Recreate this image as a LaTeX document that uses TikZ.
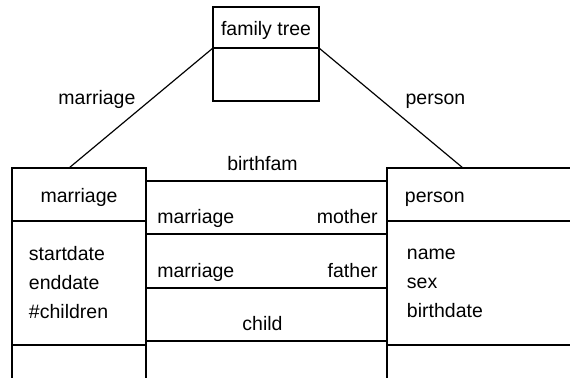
\documentclass[tikz,border=0pt]{standalone}
\usepackage{fontspec}
\setmainfont{Liberation Sans}
\usetikzlibrary{calc}
\begin{document}
\begin{tikzpicture}[x=0.5pt,y=-0.5pt,
    box/.style={draw,line width=0.6pt,anchor=north west,inner sep=0,outer sep=0,minimum height=#1},
    head/.style={text height=8.5pt,text depth=0pt},
    lbl/.style={font=\fontsize{9.75}{14.5}\selectfont,inner sep=0},
    every node/.style={font=\fontsize{9.75}{14.5}\selectfont}]
  \useasboundingbox (0,0) rectangle (570,378);
  \clip (0,0) rectangle (570,378);
  % family tree
  \node[box=20.5pt,head,minimum width=53pt] (fthead) at (213,7) {family tree};
  \node[box=26.5pt,minimum width=53pt] (ftbody) at (fthead.south west) {};
  % marriage
  \node[box=26.5pt,head,minimum width=67pt] (mhead) at (12,168) {marriage};
  \node[box=62pt,text width=50pt,inner xsep=8.5pt,align=left] (mattr) at (mhead.south west) {startdate\\enddate\\\#children};
  \node[box=30pt,minimum width=67pt] (mfoot) at (mattr.south west) {};
  % person
  \node[box=26.5pt,head,text width=80pt,inner xsep=9pt,align=left] (phead) at (387,168) {person};
  \node[box=62pt,text width=78pt,inner xsep=10pt,align=left] (pattr) at (phead.south west) {name\\sex\\birthdate};
  \node[box=30pt,text width=78pt,inner xsep=10pt] (pfoot) at (pattr.south west) {};
  \coordinate (mtop) at ([xshift=28.5pt]mhead.north west);
  \coordinate (ptop) at ([xshift=38pt]phead.north west);
  \draw[line width=0.6pt] (ftbody.north west) -- node[lbl,midway,anchor=base east,xshift=-2.5pt,yshift=1.5pt] {marriage} (mtop);
  \draw[line width=0.6pt] (ftbody.north east) -- node[lbl,midway,anchor=base west,xshift=7pt,yshift=1.5pt] {person} (ptop);
  % links
  \foreach \yy/\nn in {181/a,234/b,288/c,341/d}
    \draw[line width=0.6pt] (mhead.east |- 0,\yy) coordinate (\nn l) -- (phead.west |- 0,\yy) coordinate (\nn r);
  \node[lbl,anchor=base] (birthfam) at ($(al)!0.5!(ar)+(-4,-10)$) {birthfam};
  \node[lbl,anchor=base west] (bm) at ($(bl)+(11,-10)$) {marriage};
  \node[lbl,anchor=base east] (bmother) at ($(br)+(-9,-10)$) {mother};
  \node[lbl,anchor=base west] (cm) at ($(cl)+(11,-10)$) {marriage};
  \node[lbl,anchor=base east] (cfather) at ($(cr)+(-9,-10)$) {father};
  \node[lbl,anchor=base] (child) at ($(dl)!0.5!(dr)+(-4,-10)$) {child};
\end{tikzpicture}
\end{document}
